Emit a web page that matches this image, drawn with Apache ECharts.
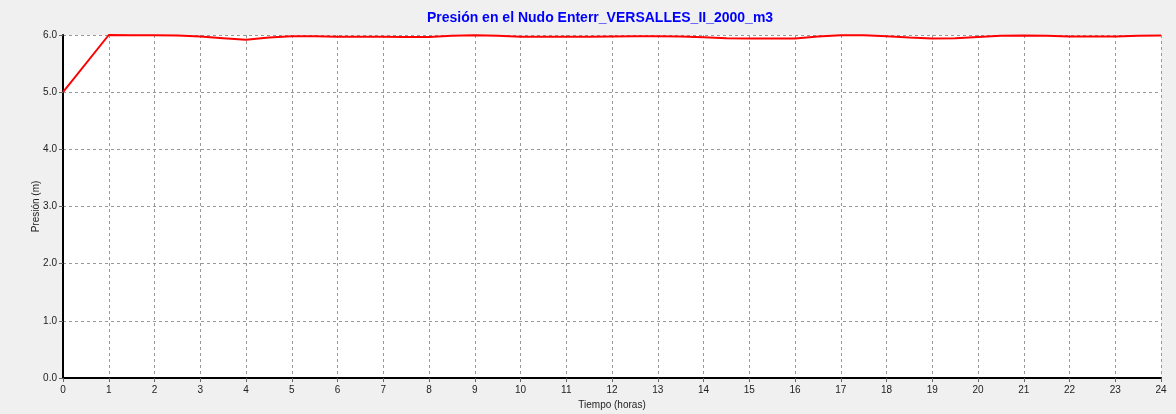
<!DOCTYPE html>
<html><head><meta charset="utf-8">
<script src="https://cdn.jsdelivr.net/npm/echarts@6/dist/echarts.min.js"></script>
<style>html,body{margin:0;padding:0;background:#f0f0f0;}#c{width:1176px;height:414px;}</style>
</head><body><div id="c"></div>
<script>
const titleText = "Presión en el Nudo Enterr_VERSALLES_II_2000_m3";
const xName = "Tiempo (horas)";
const yName = "Presión (m)";
const hours = [0,1,1.5,2,2.5,3,3.5,4,4.5,5,5.5,6,6.5,7,7.5,8,8.5,9,9.5,10,10.5,11,11.5,12,12.5,13,13.5,14,14.5,15,15.5,16,16.5,17,17.5,18,18.5,19,19.5,20,20.5,21,21.5,22,22.5,23,23.5,24];
const pressure = [5.0,6.0,5.995,5.995,5.99,5.975,5.945,5.915,5.955,5.98,5.98,5.97,5.97,5.97,5.965,5.965,5.985,5.995,5.985,5.97,5.97,5.97,5.97,5.975,5.98,5.98,5.975,5.96,5.945,5.94,5.94,5.94,5.975,5.995,5.995,5.98,5.955,5.94,5.945,5.965,5.985,5.99,5.985,5.975,5.975,5.975,5.985,5.99];

const chart = echarts.init(document.getElementById('c'));
const ff = '"Liberation Sans", Arial, sans-serif';
chart.setOption({
  backgroundColor: '#f0f0f0',
  animation: false,
  title: {
    text: titleText, left: 595, top: 6, textAlign: 'center',
    textStyle: {color: '#0000ff', fontSize: 14, fontWeight: 'bold', fontFamily: ff}
  },
  grid: {left: 63, right: 15, top: 35, bottom: 36, show: true, backgroundColor: '#ffffff', borderWidth: 0, outerBoundsMode: 'none', containLabel: false},
  xAxis: {
    type: 'value', min: 0, max: 24, interval: 1,
    name: xName, nameLocation: 'middle', nameGap: 22, nameMoveOverlap: false,
    nameTextStyle: {color: '#222', fontSize: 10, fontFamily: ff},
    axisLine: {show: true, lineStyle: {color: '#000', width: 2}},
    axisTick: {show: true, length: 4, lineStyle: {color: '#666'}},
    axisLabel: {color: '#222', fontSize: 10, fontFamily: ff, margin: 7},
    splitLine: {show: true, lineStyle: {color: '#999', type: [3,3], width: 1}}
  },
  yAxis: {
    type: 'value', min: 0, max: 6, interval: 1,
    name: yName, nameLocation: 'middle', nameGap: 22, nameRotate: 90, nameMoveOverlap: false,
    nameTextStyle: {color: '#222', fontSize: 10, fontFamily: ff},
    axisLine: {show: true, lineStyle: {color: '#000', width: 2}},
    axisTick: {show: true, length: 4, lineStyle: {color: '#666'}},
    axisLabel: {color: '#222', fontSize: 10, fontFamily: ff, margin: 6, formatter: v => v.toFixed(1)},
    splitLine: {show: true, lineStyle: {color: '#999', type: [3,3], width: 1}}
  },
  series: [{
    type: 'line', data: hours.map((h,i)=>[h, pressure[i]]),
    showSymbol: false, symbol: 'none',
    lineStyle: {color: '#ff0000', width: 2}, clip: false
  }]
});
</script></body></html>
